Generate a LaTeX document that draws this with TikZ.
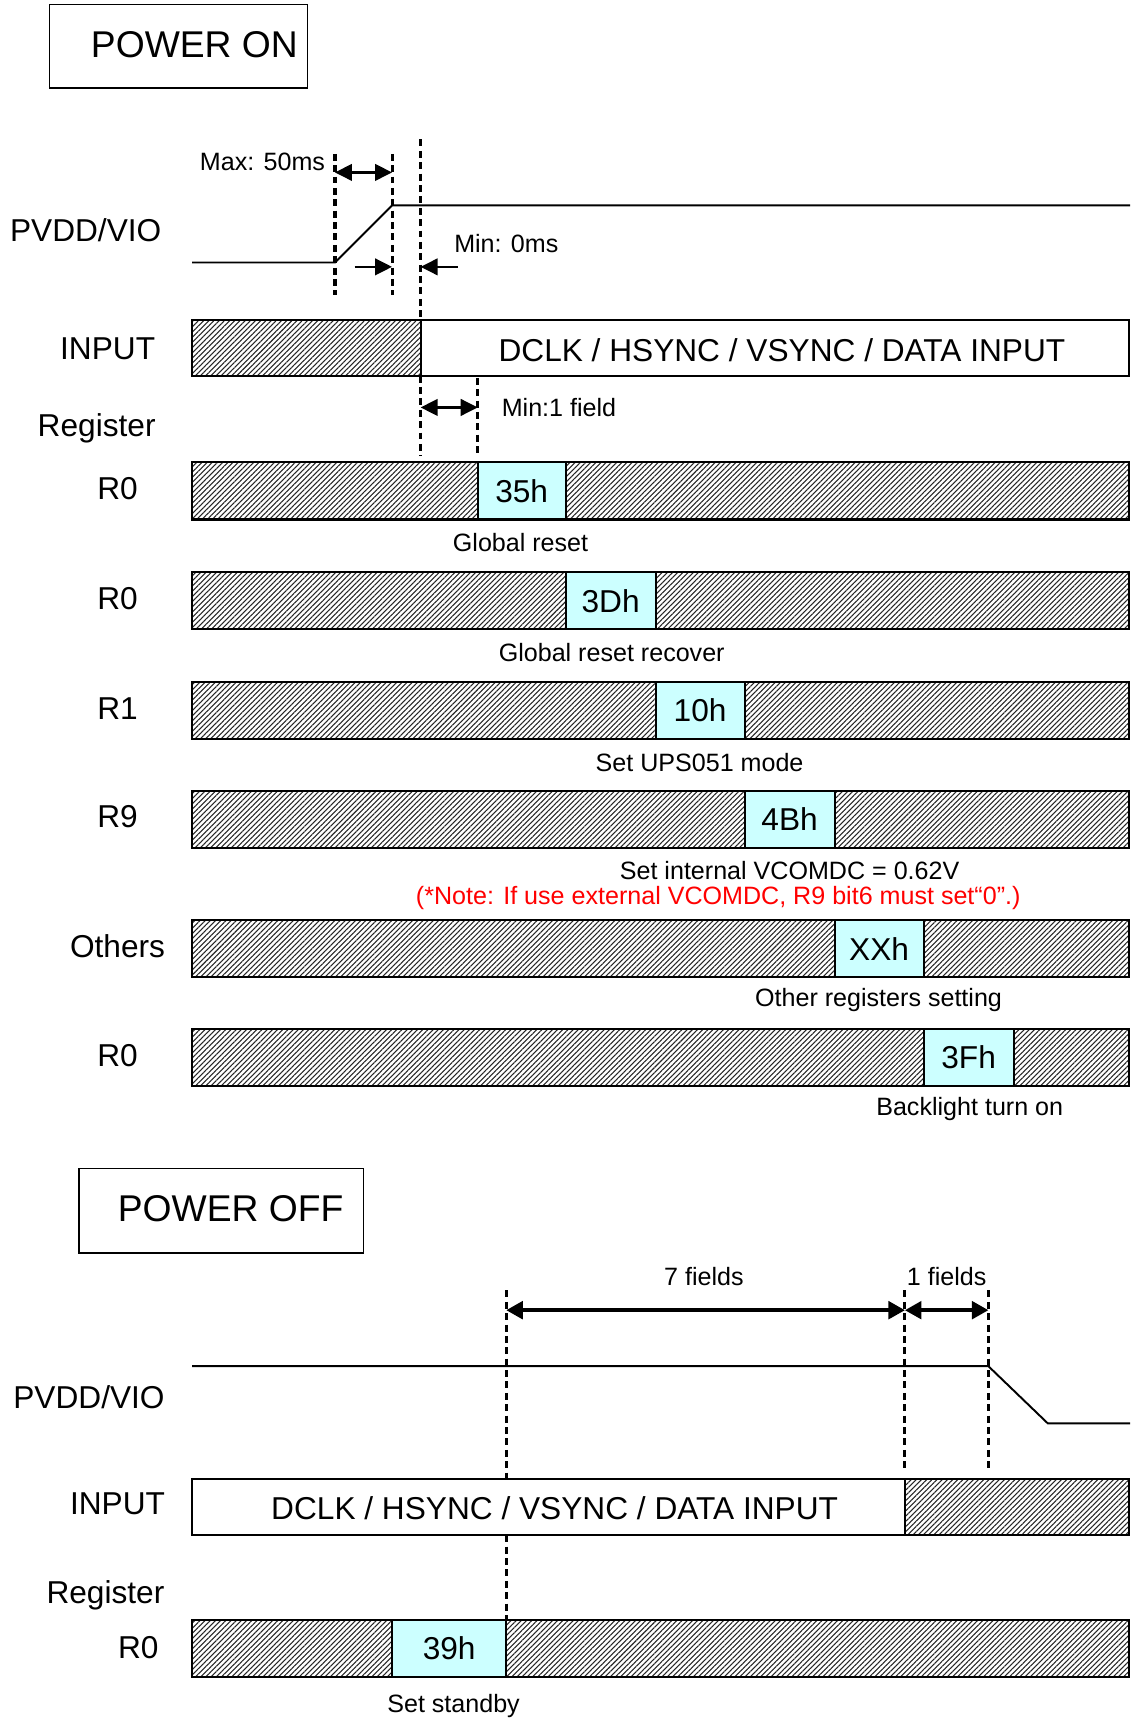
\documentclass[tikz,border=0pt]{standalone}
\usepackage{fontspec}
\setmainfont{Liberation Sans}
\usetikzlibrary{arrows.meta,patterns.meta}
\definecolor{regcyan}{HTML}{CCFFFF}
\tikzset{
  >={Triangle[length=3.1mm,width=3mm]},
  sig/.style={line width=1pt},
  bar/.style={draw,line width=1.1pt},
  hatch/.style={bar,pattern={Lines[angle=45,distance=1.9pt,line width=0.55pt]},pattern color=black!85},
  regval/.style={bar,fill=regcyan},
  guide/.style={line width=1.6pt,dash pattern=on 3.6pt off 2.3pt},
  dim/.style={<->,line width=1.4pt},
  dimthick/.style={{Triangle[length=3mm,width=3.2mm]}-{Triangle[length=3mm,width=3.2mm]},line width=1.8pt},
  sglbl/.style={inner sep=0pt,font=\fontsize{16.4}{18}\selectfont},
  caplbl/.style={inner sep=0pt,font=\fontsize{13}{15}\selectfont},
  ttl/.style={inner sep=0pt,font=\fontsize{19.3}{22}\selectfont},
  notelbl/.style={caplbl,text=red},
  ttlbox/.style={draw,line width=0.9pt},
}
\begin{document}
\begin{tikzpicture}[x=0.02cm,y=-0.02cm]
  \useasboundingbox (0,0) rectangle (1029,1568);

  % ---- power on ----
  \draw[ttlbox] (45,4) rectangle (280,80);
  \node[ttl] (pwron) at (177,41) {POWER ON};

  \node[sglbl] (pvddon) at (78,210) {PVDD/VIO};
  \node[sglbl] (inon) at (98,318) {INPUT};
  \node[sglbl] (regon) at (88,390) {Register};

  \coordinate (lowa) at (175,239);
  \coordinate (lowb) at (305,239);
  \coordinate (higha) at (357,187);
  \coordinate (highb) at (1029,187);
  \draw[sig] (lowa) -- (lowb) -- (higha) -- (highb);

  \coordinate (g1t) at (305,140); \coordinate (g1b) at (305,269);
  \coordinate (g2t) at (357,140); \coordinate (g2b) at (357,269);
  \coordinate (g3t) at (383,127); \coordinate (g3m) at (383,291);
  \coordinate (g3n) at (383,342); \coordinate (g3b) at (383,415);
  \coordinate (g4t) at (435,344); \coordinate (g4b) at (435,415);
  \draw[guide] (g1t) -- (g1b);
  \draw[guide] (g2t) -- (g2b);
  \draw[guide] (g3t) -- (g3m);
  \draw[guide] (g3n) -- (g3b);
  \draw[guide] (g4t) -- (g4b);

  \draw[dim] (305,157) -- (357,157);
  \node[caplbl] (maxlbl) at (239,147) {Max: 50ms};
  \coordinate (ina) at (323,243);
  \coordinate (inb) at (417,243);
  \draw[->,line width=1.4pt] (ina) -- (357,243);
  \draw[->,line width=1.4pt] (inb) -- (383,243);
  \node[caplbl] (minlbl) at (461,222) {Min: 0ms};

  \draw[hatch] (175,291) rectangle (383,342);
  \draw[bar] (383,291) rectangle (1028,342);
  \node[sglbl] (dataon) at (712,319) {DCLK / HSYNC / VSYNC / DATA INPUT};

  \draw[dim] (383,371) -- (435,371);
  \node[caplbl] (fldlbl) at (509,371) {Min:1 field};

  \foreach \nm/\yt/\xa/\xb/\val/\cap/\cx [count=\i] in {
      R0/421/435/515/35h/Global reset/474,
      R0/521/515/597/3Dh/Global reset recover/557,
      R1/621/597/678/10h/Set UPS051 mode/637,
      R9/720/678/760/4Bh/Set internal VCOMDC = 0.62V/719,
      Others/838/760/841/XXh/Other registers setting/800,
      R0/937/841/923/3Fh/Backlight turn on/883} {
    \draw[hatch] (175,\yt) rectangle (\xa,\yt+52);
    \draw[regval] (\xa,\yt) rectangle (\xb,\yt+52);
    \draw[hatch] (\xb,\yt) rectangle (1028,\yt+52);
    \node[sglbl] (rlbl\i) at (107,\yt+24) {\nm};
    \node[sglbl] (rval\i) at ({(\xa+\xb)/2},\yt+26) {\val};
    \node[caplbl] (rcap\i) at (\cx,\yt+73) {\cap};
  }
  \node[notelbl] (note) at (654,818) {(*Note: If use external VCOMDC, R9 bit6 must set“0”.)};

  % ---- power off ----
  \draw[ttlbox] (72,1064) rectangle (331,1141);
  \node[ttl] (pwroff) at (210,1101) {POWER OFF};

  \node[sglbl] (pvddoff) at (81,1272) {PVDD/VIO};
  \node[sglbl] (inoff) at (107,1369) {INPUT};
  \node[sglbl] (regoff) at (96,1453) {Register};
  \node[sglbl] (rlbloff) at (126,1500) {R0};

  \coordinate (offa) at (175,1244);
  \coordinate (offb) at (900,1244);
  \coordinate (offc) at (954,1296);
  \coordinate (offd) at (1029,1296);
  \draw[sig] (offa) -- (offb) -- (offc) -- (offd);

  \coordinate (h1t) at (461,1175); \coordinate (h1m) at (461,1347);
  \coordinate (h1n) at (461,1398); \coordinate (h1b) at (461,1475);
  \coordinate (h2t) at (824,1175); \coordinate (h2b) at (824,1340);
  \coordinate (h3t) at (900,1175); \coordinate (h3b) at (900,1340);
  \draw[guide] (h1t) -- (h1m);
  \draw[guide] (h1n) -- (h1b);
  \draw[guide] (h2t) -- (h2b);
  \draw[guide] (h3t) -- (h3b);

  \draw[dimthick] (461,1193) -- (824,1193);
  \draw[dimthick] (824,1193) -- (900,1193);
  \node[caplbl] (sevenlbl) at (641,1162) {7 fields};
  \node[caplbl] (onelbl) at (862,1162) {1 fields};

  \draw[bar] (175,1347) rectangle (824,1398);
  \draw[hatch] (824,1347) rectangle (1028,1398);
  \node[sglbl] (dataoff) at (505,1373) {DCLK / HSYNC / VSYNC / DATA INPUT};

  \draw[hatch] (175,1475) rectangle (357,1527);
  \draw[regval] (357,1475) rectangle (461,1527);
  \draw[hatch] (461,1475) rectangle (1028,1527);
  \node[sglbl] (rvaloff) at (409,1501) {39h};
  \node[caplbl] (rcapoff) at (413,1553) {Set standby};
\end{tikzpicture}
\end{document}
